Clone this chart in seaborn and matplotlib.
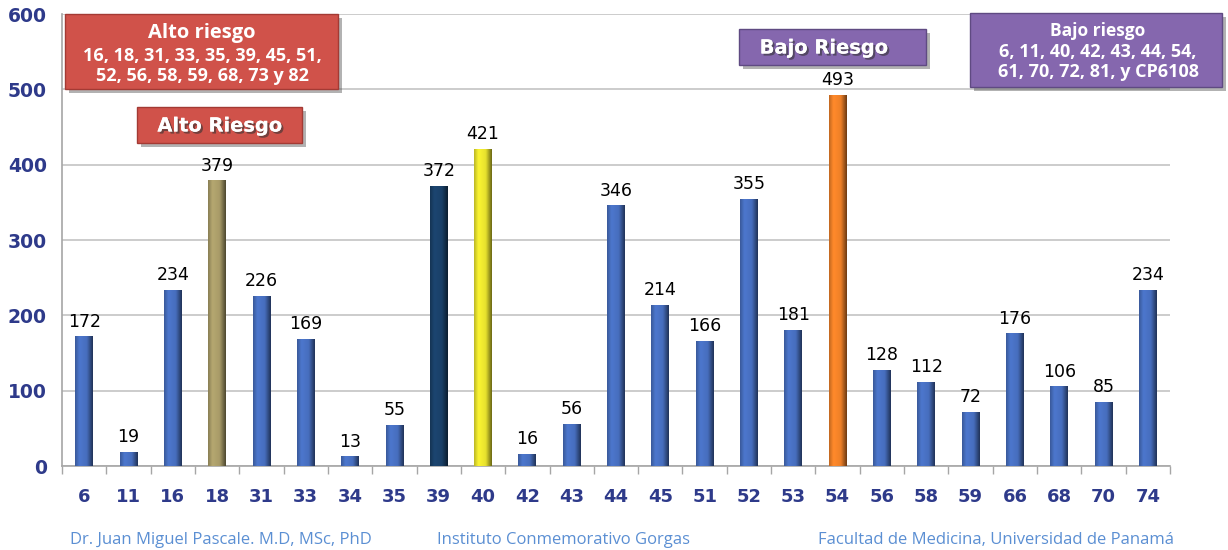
import numpy as np
import pandas as pd
import matplotlib
matplotlib.use("Agg")
import matplotlib.pyplot as plt
import matplotlib.colors as mcolors
import matplotlib.patheffects as pe
from matplotlib.patches import FancyBboxPatch
import seaborn as sns

# HPV genotypes and number of positive samples
genotypes = ["6", "11", "16", "18", "31", "33", "34", "35", "39", "40", "42", "43",
             "44", "45", "51", "52", "53", "54", "56", "58", "59", "66", "68", "70", "74"]
counts = [172, 19, 234, 379, 226, 169, 13, 55, 372, 421, 16, 56,
          346, 214, 166, 355, 181, 493, 128, 112, 72, 176, 106, 85, 234]

# highlighted genotypes get their own colour
blue = "#476EBE"
highlight = {"18": "#A89B68", "39": "#1A4068", "40": "#E8E22E", "54": "#EE8028"}
bar_colors = [highlight.get(g, blue) for g in genotypes]

y_ticks = [0, 100, 200, 300, 400, 500, 600]

high_risk_title = "Alto riesgo"
high_risk_list = "16, 18, 31, 33, 35, 39, 45, 51,\n52, 56, 58, 59, 68, 73 y 82"
low_risk_title = "Bajo riesgo"
low_risk_list = "6, 11, 40, 42, 43, 44, 54,\n61, 70, 72, 81, y CP6108"
footer = ["Dr. Juan Miguel Pascale. M.D, MSc, PhD",
          "Instituto Conmemorativo Gorgas",
          "Facultad de Medicina, Universidad de Panamá"]

sns.set_theme(style="white")
plt.rcParams["font.family"] = ["DejaVu Sans"]
box_font = ["Open Sans", "DejaVu Sans"]

W, H = 1228, 550
fig = plt.figure(figsize=(W / 100, H / 100), dpi=100)
ax = fig.add_axes([62 / W, 1 - 466 / H, (1170 - 62) / W, (466 - 14) / H])

df = pd.DataFrame({"genotype": genotypes, "count": counts})
sns.barplot(data=df, x="genotype", y="count", hue="genotype", palette=bar_colors,
            order=genotypes, hue_order=genotypes, legend=False, width=0.4,
            saturation=1, ax=ax, zorder=3)

ax.set_ylim(0, 600)
ax.set_xlim(-0.5, len(genotypes) - 0.5)

# cylinder-like shading across each bar: soft left edge, broad light body, dark right edge
profile = np.concatenate([np.linspace(0.8, 1.08, 25), np.linspace(1.08, 1.0, 40),
                          np.linspace(1.0, 0.45, 35)])
for patch in ax.patches:
    x0, y0 = patch.get_x(), patch.get_y()
    w, h = patch.get_width(), patch.get_height()
    base = np.array(mcolors.to_rgb(patch.get_facecolor()))
    img = np.clip(base[None, None, :] * profile[None, :, None], 0, 1)
    im = ax.imshow(img, extent=(x0, x0 + w, y0, y0 + h), aspect="auto",
                   interpolation="bicubic", zorder=4)
    im.set_clip_path(patch)
    patch.set_edgecolor("none")

ax.set_ylim(0, 600)
ax.set_xlim(-0.5, len(genotypes) - 0.5)

# value labels
for i, v in enumerate(counts):
    ax.annotate(str(v), (i, v), xytext=(0, 4), textcoords="offset points",
                ha="center", va="bottom", fontsize=12.5, color="black", zorder=6)

# axes styling
navy = "#2E3A8A"
ax.set_yticks(y_ticks)
ax.set_yticklabels([str(t) for t in y_ticks], fontsize=13.5, fontweight="bold", color=navy)
ax.tick_params(axis="y", length=0, pad=11)
ax.set_xticks(np.arange(len(genotypes)))
ax.set_xticklabels(genotypes, fontsize=13, fontweight="bold", color=navy)
ax.set_xticks(np.arange(len(genotypes) + 1) - 0.5, minor=True)
ax.tick_params(axis="x", which="major", length=0, pad=16)
ax.tick_params(axis="x", which="minor", length=6, width=1, color="#A6A6A6", bottom=True)
ax.set_xlabel("")
ax.set_ylabel("")
ax.grid(axis="y", color="#C4C4C4", linewidth=1.2, zorder=0)
ax.set_axisbelow(True)
for s in ["top", "right"]:
    ax.spines[s].set_visible(False)
for s in ["left", "bottom"]:
    ax.spines[s].set_color("#A6A6A6")
    ax.spines[s].set_linewidth(1.2)


def fig_box(x0, y0, x1, y1, color, edge):
    """Shadowed rectangle given in pixel coordinates (origin top-left)."""
    shadow = FancyBboxPatch((x0 / W + 0.003, 1 - y1 / H - 0.008), (x1 - x0) / W, (y1 - y0) / H,
                            boxstyle="square,pad=0", transform=fig.transFigure,
                            facecolor="#555555", edgecolor="none", alpha=0.45, zorder=8)
    box = FancyBboxPatch((x0 / W, 1 - y1 / H), (x1 - x0) / W, (y1 - y0) / H,
                         boxstyle="square,pad=0", transform=fig.transFigure,
                         facecolor=color, edgecolor=edge, linewidth=1, zorder=9)
    fig.add_artist(shadow)
    fig.add_artist(box)


shadow_fx = [pe.withSimplePatchShadow(offset=(1.5, -1.5), shadow_rgbFace="#333333", alpha=0.6),
             pe.Normal()]
red, red_edge = "#D0524A", "#A33A34"
purple, purple_edge = "#8567AE", "#5F4A82"

# high-risk list box
fig_box(65, 14, 338, 89, red, red_edge)
fig.text(202 / W, 1 - 33 / H, high_risk_title, ha="center", va="center", color="white",
         fontsize=14.5, fontweight="bold", family=box_font, zorder=10)
fig.text(202 / W, 1 - 66 / H, high_risk_list, ha="center", va="center", color="white",
         fontsize=13, fontweight="bold", family=box_font,
         linespacing=1.1, zorder=10)

# "Alto Riesgo" tag
fig_box(137, 107, 302, 143, red, red_edge)
fig.text(220 / W, 1 - 126 / H, "Alto Riesgo", ha="center", va="center", color="white",
         fontsize=14, fontweight="bold", zorder=10, path_effects=shadow_fx)

# "Bajo Riesgo" tag
fig_box(739, 29, 926, 65, purple, purple_edge)
fig.text(824 / W, 1 - 48 / H, "Bajo Riesgo", ha="center", va="center", color="white",
         fontsize=14, fontweight="bold", zorder=10, path_effects=shadow_fx)

# low-risk list box
fig_box(970, 13, 1222, 87, purple, purple_edge)
fig.text(1098 / W, 1 - 31 / H, low_risk_title, ha="center", va="center", color="white",
         fontsize=12.5, fontweight="bold", family=box_font, zorder=10)
fig.text(1098 / W, 1 - 62 / H, low_risk_list, ha="center", va="center", color="white",
         fontsize=13, fontweight="bold", family=box_font,
         linespacing=1.15, zorder=10)

# footer credits
footer_x = [70, 437, 818]
for x, t in zip(footer_x, footer):
    fig.text(x / W, 1 - 540 / H, t, ha="left", va="center", color="#5B8FD3",
             fontsize=12, family=box_font)

fig.savefig("out.png", dpi=100)
